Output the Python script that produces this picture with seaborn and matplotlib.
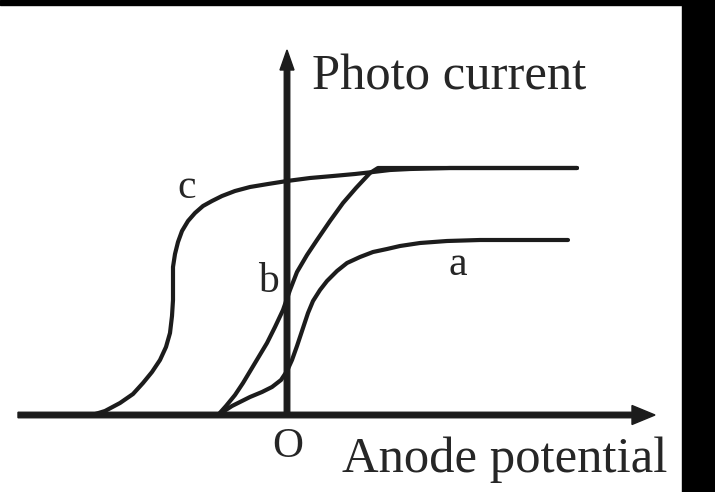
import numpy as np
import pandas as pd
import matplotlib
matplotlib.use("Agg")
import matplotlib.pyplot as plt
from matplotlib.patches import Rectangle
import seaborn as sns

# Photo current vs anode potential for three light sources (arbitrary units)
potential_a = [-0.69, -0.55, -0.37, -0.25, -0.15, -0.06, 0.00, 0.05, 0.10, 0.16, 0.21, 0.26,
               0.33, 0.40, 0.50, 0.60, 0.73, 0.86, 1.00, 1.13, 1.33, 1.60, 1.93, 2.81]
current_a   = [0.00, 0.09, 0.18, 0.23, 0.28, 0.35, 0.44, 0.55, 0.69, 0.87, 1.02, 1.14,
               1.25, 1.34, 1.44, 1.52, 1.58, 1.63, 1.66, 1.69, 1.72, 1.74, 1.75, 1.75]

potential_b = [-0.69, -0.61, -0.52, -0.44, -0.32, -0.20, -0.12, -0.04, 0.03, 0.10,
               0.20, 0.30, 0.43, 0.56, 0.69, 0.83, 0.91, 2.90]
current_b   = [0.00, 0.09, 0.20, 0.32, 0.52, 0.72, 0.88, 1.05, 1.25, 1.43,
               1.60, 1.75, 1.94, 2.12, 2.27, 2.42, 2.47, 2.47]

potential_c = [-1.95, -1.82, -1.67, -1.54, -1.44, -1.35, -1.27, -1.21, -1.17, -1.15, -1.14,
               -1.14, -1.14, -1.12, -1.09, -1.05, -0.99, -0.92, -0.84, -0.75, -0.65, -0.52,
               -0.37, -0.19, 0.00, 0.23, 0.46, 0.68, 0.86, 1.03, 1.23, 1.63, 2.90]
current_c   = [0.00, 0.04, 0.12, 0.21, 0.32, 0.43, 0.55, 0.68, 0.82, 0.99, 1.15,
               1.32, 1.48, 1.61, 1.73, 1.84, 1.94, 2.02, 2.09, 2.14, 2.19, 2.24,
               2.28, 2.31, 2.34, 2.37, 2.39, 2.41, 2.43, 2.45, 2.46, 2.47, 2.47]

curve_names = ["a", "b", "c"]
label_pos = {"a": (1.71, 1.50), "b": (-0.19, 1.33), "c": (-1.00, 2.27)}

frames = []
for name, xs, ys in zip(curve_names,
                        [potential_a, potential_b, potential_c],
                        [current_a, current_b, current_c]):
    frames.append(pd.DataFrame({"potential": xs, "current": ys, "curve": name}))
df = pd.concat(frames, ignore_index=True)

sns.set_style("white")
plt.rcParams["font.family"] = ["Liberation Serif", "DejaVu Serif"]

fig = plt.figure(figsize=(7.15, 4.92), dpi=100)
ax = fig.add_axes([0, 0, 1, 1])
ax.set_xlim(-2.87, 4.28)
ax.set_ylim(-0.77, 4.15)
ax.set_axis_off()

ink = "#1c1c1c"
text_ink = "#262626"

sns.lineplot(data=df, x="potential", y="current", units="curve", estimator=None,
             sort=False, color=ink, linewidth=3.0, ax=ax, legend=False,
             solid_joinstyle="round", solid_capstyle="round")

# Coordinate axes with arrow heads
ax.arrow(-2.69, 0.0, 6.37, 0.0, width=0.055, head_width=0.19, head_length=0.23,
         length_includes_head=True, fc=ink, ec=ink, zorder=3)
ax.arrow(0.0, 0.0, 0.0, 3.65, width=0.055, head_width=0.14, head_length=0.2,
         length_includes_head=True, fc=ink, ec=ink, zorder=3)

ax.text(0.25, 3.25, "Photo current", fontsize=36.5, color=text_ink,
        ha="left", va="baseline")
ax.text(0.55, -0.57, "Anode potential", fontsize=36.5, color=text_ink,
        ha="left", va="baseline")
ax.text(0.01, -0.32, "O", fontsize=31, color=text_ink, ha="center", va="center")

for name in curve_names:
    x, y = label_pos[name]
    ax.text(x, y, name, fontsize=30, color=text_ink, ha="center", va="center")

# Dark frame along the top and right edges
fig.patches.append(Rectangle((0, 1 - 5 / 492), 1, 5 / 492, transform=fig.transFigure,
                             color="black", zorder=10))
fig.patches.append(Rectangle((682 / 715, 0), 33 / 715, 1, transform=fig.transFigure,
                             color="black", zorder=10))

fig.savefig("out.png", dpi=100)
